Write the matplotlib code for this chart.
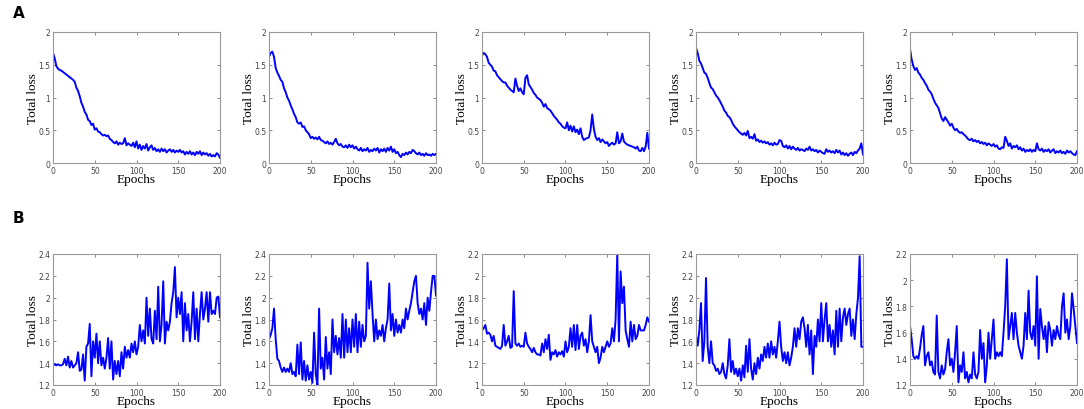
import numpy as np
import matplotlib
matplotlib.use("Agg")
import matplotlib.pyplot as plt
from matplotlib.ticker import FuncFormatter

# epochs sampled every 2 steps
epochs = np.arange(0, 201, 2)

# --- row A: total loss (decreasing runs) ---
loss_a1 = [1.68, 1.60, 1.48, 1.44, 1.42, 1.41, 1.39, 1.37, 1.35, 1.33,
           1.31, 1.29, 1.27, 1.24, 1.15, 1.10, 1.02, 0.92, 0.86, 0.78,
           0.74, 0.66, 0.64, 0.58, 0.60, 0.51, 0.53, 0.48, 0.47, 0.44,
           0.42, 0.43, 0.41, 0.42, 0.37, 0.35, 0.32, 0.30, 0.33, 0.28,
           0.31, 0.29, 0.30, 0.38, 0.27, 0.30, 0.28, 0.26, 0.31, 0.24,
           0.33, 0.22, 0.28, 0.20, 0.26, 0.22, 0.29, 0.19, 0.24, 0.27,
           0.20, 0.23, 0.18, 0.21, 0.17, 0.22, 0.18, 0.21, 0.16, 0.19,
           0.21, 0.17, 0.20, 0.16, 0.19, 0.17, 0.20, 0.16, 0.18, 0.13,
           0.17, 0.14, 0.18, 0.13, 0.16, 0.12, 0.17, 0.14, 0.18, 0.12,
           0.16, 0.13, 0.15, 0.11, 0.14, 0.10, 0.12, 0.10, 0.15, 0.13,
           0.08]
loss_a2 = [1.62, 1.68, 1.70, 1.62, 1.45, 1.38, 1.33, 1.27, 1.24, 1.14,
           1.08, 1.00, 0.95, 0.88, 0.82, 0.75, 0.70, 0.62, 0.60, 0.62,
           0.55, 0.56, 0.50, 0.47, 0.44, 0.38, 0.40, 0.37, 0.39, 0.36,
           0.40, 0.35, 0.34, 0.32, 0.30, 0.33, 0.29, 0.31, 0.28, 0.32,
           0.37, 0.30, 0.27, 0.29, 0.25, 0.24, 0.27, 0.23, 0.28, 0.24,
           0.27, 0.22, 0.25, 0.21, 0.19, 0.23, 0.18, 0.21, 0.19, 0.23,
           0.17, 0.20, 0.18, 0.22, 0.19, 0.23, 0.16, 0.21, 0.18, 0.22,
           0.17, 0.23, 0.19, 0.25, 0.17, 0.21, 0.15, 0.17, 0.12, 0.09,
           0.14, 0.12, 0.16, 0.13, 0.17, 0.15, 0.20, 0.18, 0.15, 0.13,
           0.16, 0.12, 0.14, 0.11, 0.15, 0.12, 0.13, 0.11, 0.14, 0.12,
           0.14]
loss_a3 = [1.64, 1.68, 1.66, 1.62, 1.53, 1.50, 1.47, 1.41, 1.40, 1.34,
           1.31, 1.28, 1.25, 1.23, 1.23, 1.18, 1.15, 1.12, 1.10, 1.08,
           1.29, 1.18, 1.10, 1.14, 1.08, 1.05, 1.30, 1.34, 1.20, 1.16,
           1.12, 1.07, 1.04, 1.00, 0.98, 0.96, 0.92, 0.86, 0.90, 0.84,
           0.82, 0.80, 0.76, 0.72, 0.69, 0.66, 0.62, 0.60, 0.56, 0.54,
           0.53, 0.62, 0.50, 0.57, 0.48, 0.56, 0.47, 0.51, 0.44, 0.53,
           0.40, 0.35, 0.37, 0.38, 0.39, 0.50, 0.74, 0.52, 0.40, 0.35,
           0.38, 0.32, 0.36, 0.33, 0.30, 0.32, 0.26, 0.29, 0.31, 0.28,
           0.30, 0.47, 0.30, 0.33, 0.45, 0.33, 0.30, 0.28, 0.27, 0.26,
           0.25, 0.24, 0.22, 0.25, 0.19, 0.18, 0.23, 0.18, 0.25, 0.46,
           0.22]
loss_a4 = [1.76, 1.68, 1.56, 1.52, 1.45, 1.38, 1.36, 1.30, 1.22, 1.15,
           1.13, 1.08, 1.03, 1.00, 0.96, 0.91, 0.86, 0.80, 0.77, 0.72,
           0.70, 0.66, 0.60, 0.56, 0.53, 0.50, 0.47, 0.45, 0.43, 0.46,
           0.42, 0.49, 0.38, 0.40, 0.37, 0.44, 0.34, 0.36, 0.32, 0.34,
           0.31, 0.33, 0.30, 0.32, 0.28, 0.30, 0.27, 0.31, 0.28, 0.29,
           0.35, 0.34, 0.26, 0.24, 0.27, 0.22, 0.26, 0.21, 0.25, 0.22,
           0.20, 0.23, 0.19, 0.21, 0.20, 0.18, 0.22, 0.20, 0.25, 0.19,
           0.21, 0.18, 0.20, 0.16, 0.19, 0.17, 0.15, 0.14, 0.21, 0.17,
           0.19, 0.16, 0.18, 0.15, 0.20, 0.16, 0.19, 0.13, 0.16, 0.12,
           0.15, 0.11, 0.14, 0.16, 0.12, 0.17, 0.15, 0.19, 0.22, 0.30,
           0.13]
loss_a5 = [1.74, 1.58, 1.48, 1.42, 1.45, 1.38, 1.35, 1.30, 1.27, 1.22,
           1.18, 1.12, 1.09, 1.05, 0.98, 0.92, 0.88, 0.84, 0.76, 0.68,
           0.64, 0.70, 0.66, 0.62, 0.57, 0.60, 0.54, 0.50, 0.52, 0.48,
           0.46, 0.47, 0.44, 0.42, 0.39, 0.36, 0.35, 0.37, 0.33, 0.35,
           0.32, 0.34, 0.30, 0.32, 0.29, 0.31, 0.27, 0.30, 0.28, 0.26,
           0.29, 0.25, 0.27, 0.22, 0.21, 0.24, 0.23, 0.40, 0.34, 0.26,
           0.30, 0.22, 0.26, 0.24, 0.27, 0.21, 0.24, 0.19, 0.22, 0.17,
           0.20, 0.18, 0.21, 0.17, 0.20, 0.18, 0.30, 0.21, 0.19, 0.22,
           0.17, 0.20, 0.18, 0.21, 0.16, 0.19, 0.21, 0.15, 0.18, 0.16,
           0.19, 0.15, 0.17, 0.14, 0.19, 0.16, 0.18, 0.15, 0.13, 0.12,
           0.18]

# --- row B: total loss (noisy runs) ---
loss_b1 = [1.38, 1.39, 1.38, 1.39, 1.38, 1.38, 1.39, 1.44, 1.38, 1.46,
           1.36, 1.42, 1.36, 1.38, 1.40, 1.50, 1.33, 1.34, 1.48, 1.24,
           1.55, 1.58, 1.76, 1.28, 1.60, 1.45, 1.67, 1.40, 1.60, 1.38,
           1.45, 1.35, 1.45, 1.63, 1.35, 1.60, 1.25, 1.42, 1.30, 1.42,
           1.28, 1.50, 1.35, 1.55, 1.45, 1.52, 1.45, 1.58, 1.50, 1.60,
           1.48, 1.55, 1.75, 1.60, 1.70, 1.58, 2.00, 1.65, 1.90, 1.62,
           1.58, 1.88, 1.62, 2.10, 1.60, 1.75, 2.15, 1.58, 1.78, 1.70,
           1.78, 1.95, 2.05, 2.28, 1.82, 2.00, 1.85, 2.05, 1.60, 1.95,
           1.70, 1.85, 1.60, 1.78, 2.05, 1.62, 1.90, 1.60, 1.85, 2.05,
           1.80, 1.90, 2.05, 1.78, 2.05, 1.85, 1.88, 1.85, 2.00, 2.01,
           1.82]
loss_b2 = [1.62, 1.66, 1.72, 1.90, 1.62, 1.44, 1.42, 1.36, 1.32, 1.36,
           1.32, 1.35, 1.32, 1.40, 1.30, 1.32, 1.28, 1.57, 1.30, 1.59,
           1.25, 1.42, 1.24, 1.38, 1.25, 1.32, 1.22, 1.68, 1.30, 1.20,
           1.90, 1.35, 1.45, 1.25, 1.64, 1.35, 1.50, 1.30, 1.80, 1.50,
           1.65, 1.48, 1.63, 1.45, 1.85, 1.45, 1.80, 1.50, 1.72, 1.50,
           1.80, 1.55, 1.85, 1.50, 1.78, 1.55, 1.75, 1.60, 1.65, 2.32,
           1.90, 2.15, 1.85, 1.60, 1.80, 1.62, 1.70, 1.65, 1.75, 1.60,
           1.72, 1.80, 2.13, 1.70, 1.85, 1.65, 1.80, 1.68, 1.75, 1.68,
           1.80, 1.72, 1.90, 1.80, 1.88, 1.95, 2.05, 2.15, 2.20, 1.95,
           1.85, 1.90, 1.80, 1.95, 1.75, 2.00, 1.88, 2.05, 2.20, 2.20,
           2.02]
loss_b3 = [1.50, 1.52, 1.55, 1.47, 1.48, 1.46, 1.40, 1.45, 1.36, 1.35,
           1.34, 1.33, 1.36, 1.55, 1.36, 1.40, 1.45, 1.34, 1.35, 1.86,
           1.38, 1.36, 1.38, 1.35, 1.36, 1.35, 1.48, 1.38, 1.35, 1.33,
           1.30, 1.34, 1.30, 1.28, 1.28, 1.27, 1.38, 1.30, 1.42, 1.33,
           1.46, 1.23, 1.30, 1.28, 1.32, 1.26, 1.30, 1.28, 1.31, 1.26,
           1.40, 1.30, 1.35, 1.52, 1.35, 1.55, 1.32, 1.55, 1.33, 1.45,
           1.48, 1.36, 1.42, 1.30, 1.40, 1.64, 1.40, 1.35, 1.30, 1.35,
           1.20, 1.25, 1.35, 1.30, 1.35, 1.40, 1.35, 1.38, 1.52, 1.40,
           1.60, 2.20, 1.40, 2.04, 1.75, 1.90, 1.50, 1.42, 1.35, 1.58,
           1.40, 1.55, 1.42, 1.45, 1.55, 1.50, 1.50, 1.50, 1.55, 1.62,
           1.58]
loss_b4 = [1.65, 1.56, 1.70, 1.95, 1.42, 1.60, 2.18, 1.55, 1.40, 1.60,
           1.40, 1.38, 1.33, 1.35, 1.30, 1.32, 1.40, 1.30, 1.26, 1.38,
           1.62, 1.32, 1.42, 1.30, 1.35, 1.28, 1.35, 1.24, 1.38, 1.27,
           1.56, 1.32, 1.62, 1.35, 1.25, 1.40, 1.30, 1.45, 1.35, 1.48,
           1.42, 1.55, 1.45, 1.58, 1.45, 1.60, 1.48, 1.55, 1.45, 1.60,
           1.78, 1.55, 1.42, 1.50, 1.40, 1.50, 1.38, 1.45, 1.55, 1.72,
           1.55, 1.72, 1.62, 1.78, 1.82, 1.72, 1.55, 1.75, 1.48, 1.70,
           1.30, 1.65, 1.55, 1.80, 1.60, 1.95, 1.60, 1.80, 1.95, 1.60,
           1.75, 1.55, 1.70, 1.48, 1.88, 1.55, 1.90, 1.60, 1.82, 1.90,
           1.75, 1.85, 1.90, 1.65, 1.80, 1.62, 1.85, 2.00, 2.38, 1.55,
           1.55]
loss_b5 = [1.65, 1.55, 1.42, 1.40, 1.42, 1.40, 1.48, 1.58, 1.65, 1.35,
           1.42, 1.45, 1.35, 1.38, 1.30, 1.28, 1.73, 1.30, 1.25, 1.35,
           1.28, 1.32, 1.45, 1.55, 1.35, 1.40, 1.30, 1.45, 1.65, 1.22,
           1.35, 1.30, 1.45, 1.25, 1.30, 1.22, 1.28, 1.25, 1.45, 1.28,
           1.25, 1.30, 1.62, 1.40, 1.52, 1.22, 1.35, 1.60, 1.40, 1.55,
           1.70, 1.40, 1.45, 1.42, 1.45, 1.42, 1.60, 1.80, 2.16, 1.55,
           1.65, 1.75, 1.55, 1.75, 1.60, 1.50, 1.45, 1.40, 1.50, 1.75,
           1.55, 1.92, 1.60, 1.55, 1.65, 1.50, 2.03, 1.40, 1.78, 1.65,
           1.55, 1.65, 1.45, 1.68, 1.62, 1.50, 1.62, 1.55, 1.65, 1.58,
           1.55, 1.80, 1.90, 1.60, 1.70, 1.55, 1.65, 1.90, 1.78, 1.65,
           1.52]

row_a = [loss_a1, loss_a2, loss_a3, loss_a4, loss_a5]
row_b = [loss_b1, loss_b2, loss_b3, loss_b4, loss_b5]
ylims_b = [(1.2, 2.4), (1.2, 2.4), (1.0, 2.2), (1.2, 2.4), (1.2, 2.2)]

W, H = 1084, 410
fig = plt.figure(figsize=(W / 100, H / 100), dpi=100)

lefts = [53, 269, 482, 696, 910]
ax_w = 167
ax_h = 131
tops = {"A": 33, "B": 255}

fmt = FuncFormatter(lambda v, p: "%g" % round(v, 2))
serif = ["Liberation Serif", "DejaVu Serif"]


def style(ax, ylim, ystep):
    ax.set_xlim(0, 200)
    ax.set_ylim(*ylim)
    ax.set_xticks(np.arange(0, 201, 50))
    ax.set_yticks(np.arange(ylim[0], ylim[1] + 1e-6, ystep))
    ax.xaxis.set_major_formatter(fmt)
    ax.yaxis.set_major_formatter(fmt)
    ax.tick_params(direction="in", top=True, right=True, length=2.5,
                   width=0.6, color="#777777", labelsize=5.5,
                   labelcolor="#444444", pad=2)
    for s in ax.spines.values():
        s.set_color("#999999")
        s.set_linewidth(0.8)
    ax.set_xlabel("Epochs", family=serif, fontsize=9.5, labelpad=-1)
    ax.set_ylabel("Total loss", family=serif, fontsize=9.5)
    ax.yaxis.set_label_coords(-0.082, 0.5)


for i, left in enumerate(lefts):
    # top row
    ax = fig.add_axes([left / W, 1 - (tops["A"] + ax_h) / H, ax_w / W, ax_h / H])
    ax.plot(epochs, row_a[i], color="#0000ff", lw=1.4)
    style(ax, (0, 2), 0.5)
    # bottom row
    ax = fig.add_axes([left / W, 1 - (tops["B"] + ax_h) / H, ax_w / W, ax_h / H])
    ax.plot(epochs, row_b[i], color="#0000ff", lw=1.4)
    style(ax, ylims_b[i], 0.2)

fig.text(13 / W, 1 - 13 / H, "A", fontsize=11, weight="bold", va="center")
fig.text(13 / W, 1 - 219 / H, "B", fontsize=11, weight="bold", va="center")

fig.savefig("out.png", dpi=100)
